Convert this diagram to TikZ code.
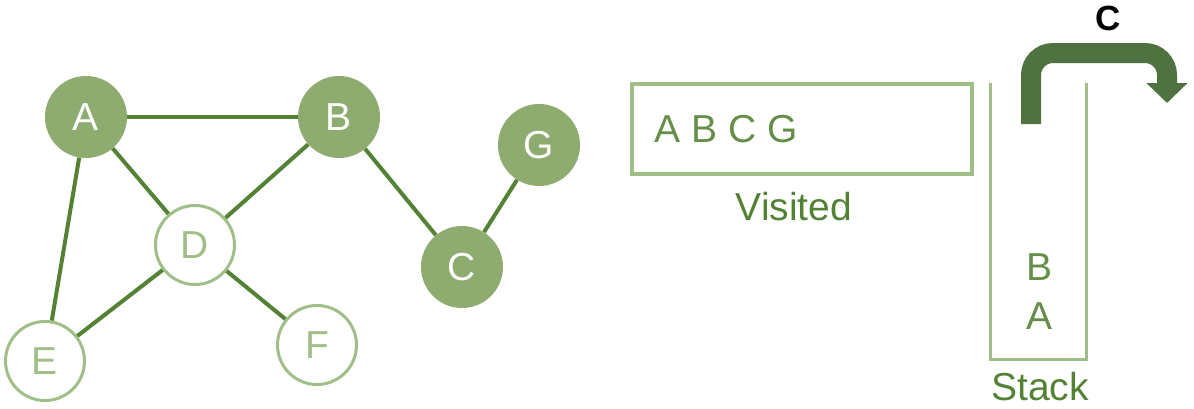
\documentclass[tikz,border=0pt]{standalone}
\usepackage{fontspec}
\setmainfont{Liberation Sans}
\usepackage{xcolor}
\usepackage{tikz}
\usetikzlibrary{shapes,arrows.meta,positioning,calc}
\definecolor{dfsfill}{RGB}{143,172,112}
\definecolor{dfsedge}{RGB}{84,130,53}
\definecolor{dfsring}{RGB}{160,190,135}
\definecolor{dfsarrow}{RGB}{80,114,64}
\tikzset{
    visitednode/.style={circle, fill=dfsfill, text=white, minimum size=82pt, inner sep=0pt, font=\fontsize{39}{39}\selectfont},
    opennode/.style={circle, draw=dfsring, line width=3pt, fill=white, text=dfsring, minimum size=79pt, inner sep=0pt, font=\fontsize{39}{39}\selectfont},
    edge/.style={draw=dfsedge, line width=4pt},
    label/.style={text=dfsedge, inner sep=0pt, font=\fontsize{39}{39}\selectfont}
}
\begin{document}
\begin{tikzpicture}[x=1pt, y=-1pt]
    \useasboundingbox (0,0) rectangle (1194,408);

    % Graph nodes
    \node [visitednode] (A) at (86,117) {A};
    \node [visitednode] (B) at (339,117) {B};
    \node [visitednode] (G) at (539,145) {G};
    \node [visitednode] (C) at (462,267) {C};
    \node [opennode] (D) at (195,245) {D};
    \node [opennode] (E) at (45,361) {E};
    \node [opennode] (F) at (317,345) {F};

    % Connections
    \path [edge] (A) -- (B);
    \path [edge] (A) -- (D);
    \path [edge] (A) -- (E);
    \path [edge] (B) -- (D);
    \path [edge] (B) -- (C);
    \path [edge] (C) -- (G);
    \path [edge] (D) -- (E);
    \path [edge] (D) -- (F);

    % Visited list
    \node [draw=dfsring, line width=3.5pt, minimum width=340pt, minimum height=90pt, inner sep=0pt] (visited) at (802,129) {};
    \node [label, anchor=west, text=dfsedge!90] (vlist) at ([xshift=24pt]visited.west) {A B C G};
    \node [label] (vname) at (794,207) {Visited};

    % Stack
    \node [minimum width=95pt, minimum height=276pt, inner sep=0pt] (stack) at (1038.5,221) {};
    \draw [dfsring, line width=3pt] (stack.north west) -- (stack.south west) -- (stack.south east) -- (stack.north east);
    \node [label, text=dfsedge!90] (sB) at (1039,267) {B};
    \node [label, text=dfsedge!90] (sA) at (1039,316) {A};
    \node [label] (sname) at (1040,387) {Stack};

    % Pop arrow
    \coordinate (popstart) at (1031,124);
    \coordinate (popend) at (1167,103);
    \draw [dfsarrow, line width=20pt, rounded corners=22pt, -{Triangle[width=40pt,length=20pt]}]
        (popstart) |- ($(popend)+(0,-50)$) -- (popend);
    \node [font=\bfseries\fontsize{35}{35}\selectfont, inner sep=0pt] (popped) at (1108,18) {C};
\end{tikzpicture}
\end{document}
